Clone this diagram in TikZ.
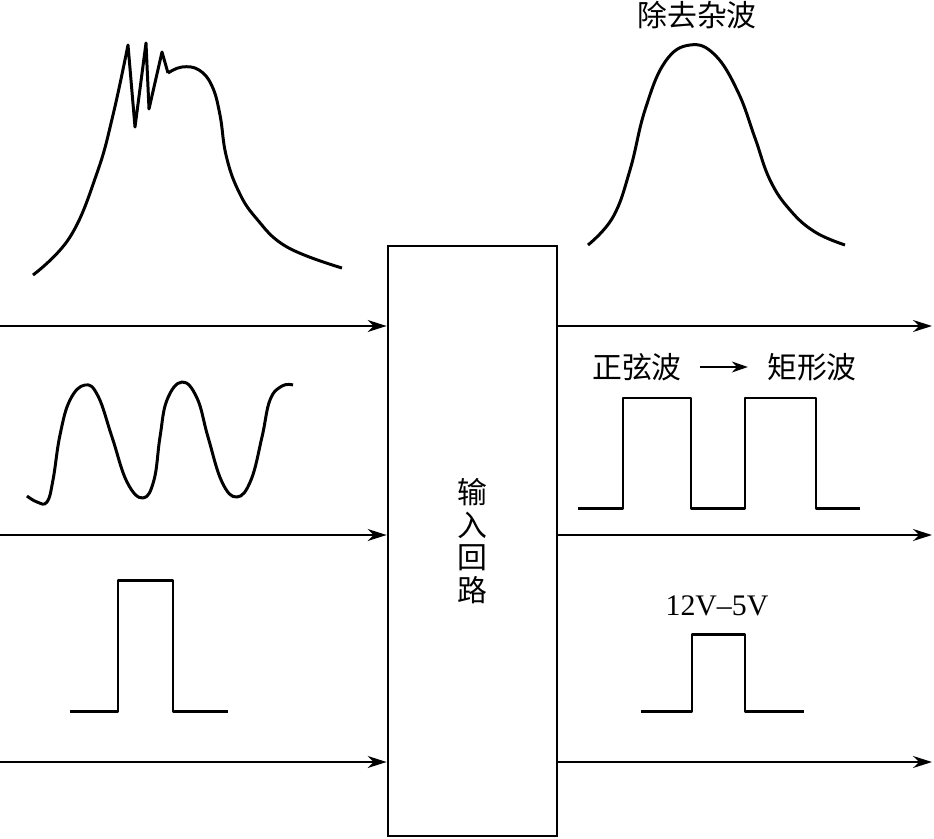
\documentclass[tikz,border=0pt]{standalone}
\usepackage{fontspec}
\setmainfont{Liberation Serif}
\newfontfamily\cjk{Noto Sans CJK SC}
\usetikzlibrary{arrows.meta,positioning}

\begin{document}
\begin{tikzpicture}[x=0.02cm,y=-0.02cm,
  loopbox/.style={draw,line width=1.6pt,minimum width=3.38cm,minimum height=11.8cm,
    align=center,font=\cjk\fontsize{17}{18.7}\selectfont},
  arr/.style={-{Stealth[length=3.8mm,width=2.4mm]},line width=1pt},
  wave/.style={line width=1.7pt,line join=round},
  lbl/.style={font=\cjk\fontsize{17}{20}\selectfont,inner sep=0pt}
]
\useasboundingbox (0,0) rectangle (934,839);
\node[loopbox] (loop) at (472.5,541) {输\\入\\回\\路};
% signal lines
\foreach \n/\y in {1/326,2/535,3/762}{
  \coordinate (in\n) at (0,\y);
  \coordinate (out\n) at (932,\y);
  \draw[arr] (in\n) -- (in\n -| loop.west);
  \draw[arr] (out\n -| loop.east) -- (out\n);
}
% inputs
\draw[wave] plot[smooth,tension=0.7] coordinates {(33,275) (70,237) (97,173) (113,115) (128,45)}
  -- (135,127) -- (146,43) -- (149,109) -- (162,52) -- (168,73)
  plot[smooth,tension=0.7] coordinates {(168,73) (182,67) (199,70) (212,86) (220,115)
  (226,155) (238,190) (256,218) (287,247) (342,268)};
\draw[wave] plot[smooth,tension=0.7] coordinates {(27,496) (37,502) (47,502) (53,480)
  (60,435) (70,400) (85,385) (98,396) (112,437) (127,482) (143,498) (154,480) (160,437)
  (167,400) (182,382) (197,398) (208,437) (222,482) (237,497) (251,480) (262,437)
  (270,400) (282,386) (293,385)};
\draw[wave] (70,711) -- (118,711) -- (118,580) -- (173,580) -- (173,711) -- (228,711);
% outputs
\node[lbl] (clean) at (697,15) {除去杂波};
\draw[wave] plot[smooth,tension=0.7] coordinates {(588,245) (613,217) (630,170) (645,110)
  (665,62) (690,45) (715,55) (738,92) (755,138) (770,180) (790,210) (815,232) (845,245)};
\node[lbl] (sine) at (637,367) {正弦波};
\node[lbl] (rect) at (812,367) {矩形波};
\draw[-{Stealth[length=3.2mm,width=2.2mm]},line width=1pt,shorten <=3.6mm,shorten >=3.8mm]
  (sine) -- (rect);
\draw[wave] (578,508) -- (623,508) -- (623,398) -- (691,398) -- (691,508) -- (745,508)
  -- (745,398) -- (816,398) -- (816,508) -- (860,508);
\node[font=\fontsize{17}{20}\selectfont,inner sep=0pt] (volt) at (717,606) {12V--5V};
\draw[wave] (641,711) -- (692,711) -- (692,634) -- (745,634) -- (745,711) -- (804,711);
\end{tikzpicture}
\end{document}
